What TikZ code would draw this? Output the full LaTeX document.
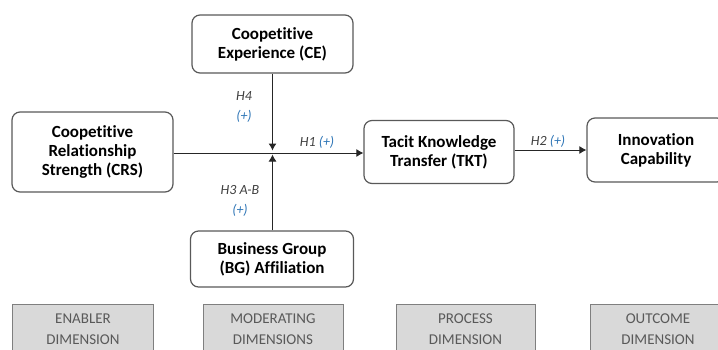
\documentclass[tikz,border=0pt]{standalone}
\usepackage{fontspec}
\setmainfont{Carlito}[Ligatures=NoCommon]
\usetikzlibrary{arrows.meta}
\definecolor{boxline}{HTML}{595959}
\definecolor{conn}{HTML}{262626}
\definecolor{plusblue}{HTML}{2E75B6}
\definecolor{dimfill}{HTML}{D9D9D9}
\definecolor{dimline}{HTML}{7F7F7F}
\definecolor{dimtext}{HTML}{595959}
\definecolor{labtext}{HTML}{404040}
\begin{document}
\begin{tikzpicture}[x=1bp,y=-1bp,
  construct/.style={draw=boxline,line width=1.2bp,rounded corners=8bp,fill=white,
    align=center,inner sep=0pt,font=\fontsize{17bp}{19bp}\selectfont\bfseries},
  dimbox/.style={draw=dimline,line width=1bp,fill=dimfill,inner sep=0pt},
  dimlabel/.style={align=center,text=dimtext,inner sep=0pt,
    font=\fontsize{15bp}{21bp}\selectfont},
  link/.style={draw=conn,line width=1bp,-{Latex[length=7bp,width=8bp]}},
  hyp/.style={text=labtext,inner sep=0pt,align=center,
    font=\fontsize{14bp}{20bp}\selectfont\itshape}]
\useasboundingbox (0,0) rectangle (718,349);
\begin{scope}
\clip (0,0) rectangle (718,349);

% construct boxes
\node[construct,minimum width=161bp,minimum height=80bp] (CRS) at (92.5,152)
  {Coopetitive\\Relationship\\Strength (CRS)};
\node[construct,minimum width=161bp,minimum height=58bp] (CE) at (272.5,44)
  {Coopetitive\\Experience (CE)};
\node[construct,minimum width=163bp,minimum height=56bp] (BG) at (272,259)
  {Business Group\\(BG) Affiliation};
\node[construct,minimum width=150bp,minimum height=63bp] (TKT) at (439,152)
  {Tacit Knowledge\\Transfer (TKT)};
\node[construct,minimum width=138bp,minimum height=64bp] (IC) at (656,150)
  {Innovation\\Capability};

% moderation junction on the main path
\coordinate (J) at (272.5,153);

% connectors
\draw[draw=conn,line width=1bp] (CRS.east |- J) -- (J);
\draw[link] (J) -- (TKT.west |- J);
\draw[link,shorten >=2.5bp] (CE.south -| J) -- (J);
\draw[link,shorten >=1.5bp] (BG.north -| J) -- (J);
\draw[link] (TKT.east |- IC.west) -- (IC.west);

% hypothesis labels
\node[hyp] (h1) at (317,142) {H1 \textcolor{plusblue}{(+)}};
\node[hyp] (h4) at (244,107) {H4\\\textcolor{plusblue}{(+)}};
\node[hyp] (h3) at (240,201) {H3 A-B\\\textcolor{plusblue}{(+)}};
\node[hyp] (h2) at (548,141) {H2 \textcolor{plusblue}{(+)}};

% dimension bands
\node[dimbox,minimum width=140bp,minimum height=70bp,anchor=north] (enb) at (83,304) {};
\node[dimbox,minimum width=140bp,minimum height=70bp,anchor=north] (mod) at (273,304) {};
\node[dimbox,minimum width=139bp,minimum height=70bp,anchor=north] (pro) at (465.5,304) {};
\node[dimbox,minimum width=140bp,minimum height=70bp,anchor=north] (out) at (660,304) {};
\node[dimlabel] (enbt) at (83,329) {ENABLER\\DIMENSION};
\node[dimlabel] (modt) at (273,329) {MODERATING\\DIMENSIONS};
\node[dimlabel] (prot) at (465.5,329) {PROCESS\\DIMENSION};
\node[dimlabel] (outt) at (658,329) {OUTCOME\\DIMENSION};
\end{scope}
\end{tikzpicture}
\end{document}
